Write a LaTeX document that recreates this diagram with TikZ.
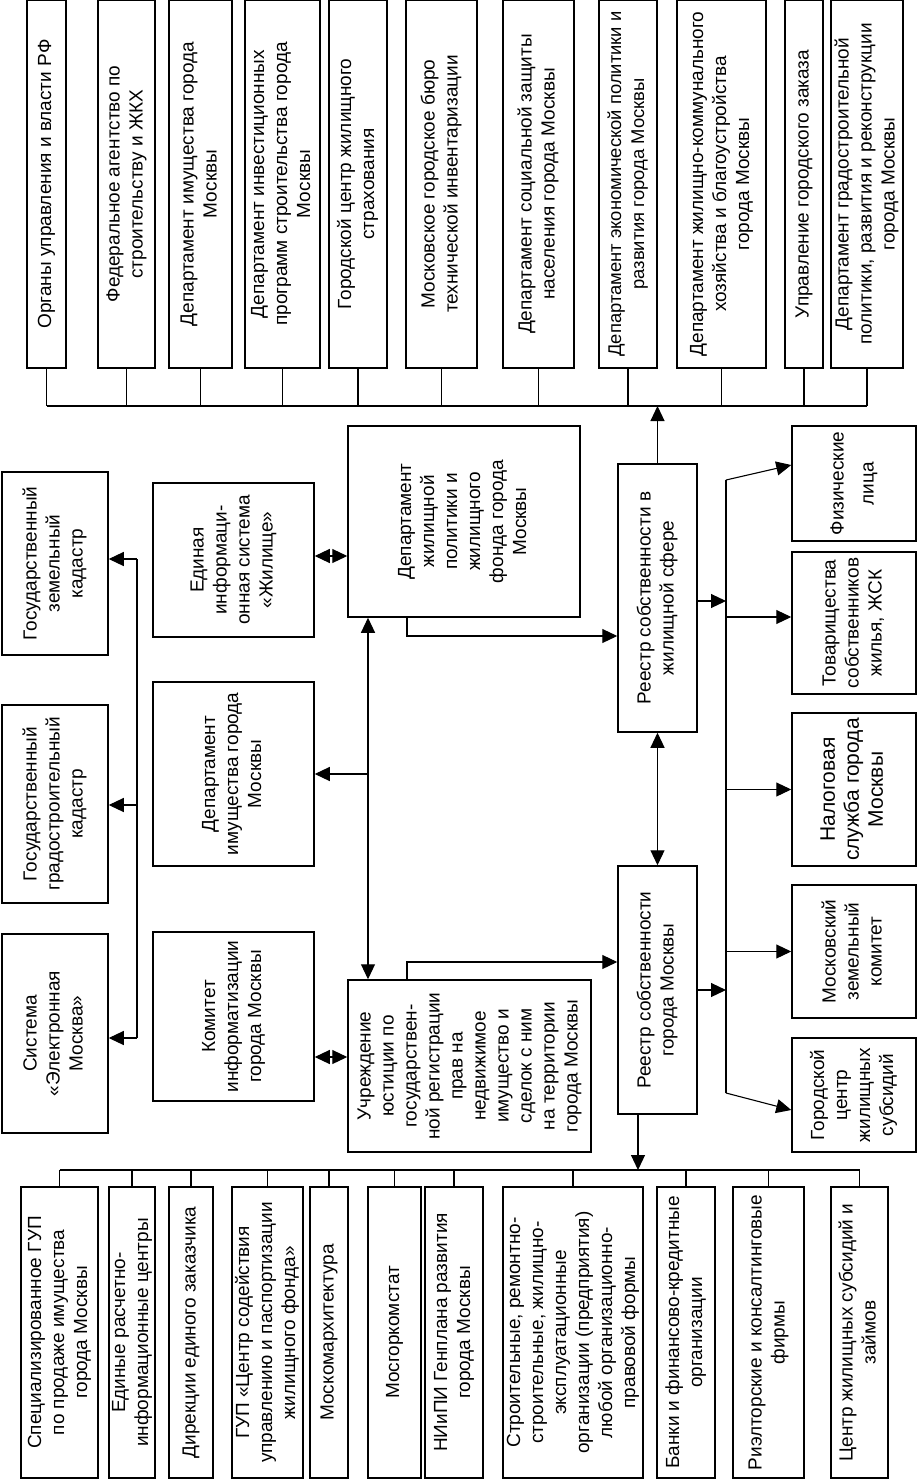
\documentclass[tikz,border=0pt]{standalone}
\usepackage{fontspec}
\usepackage{graphicx}
\setmainfont{Liberation Sans}
\usetikzlibrary{arrows.meta}
\newcommand\rt[1]{\rotatebox{90}{\begin{tabular}{@{}c@{}}#1\end{tabular}}}
\newcommand\mkbox[7][]{\node[box, #1, minimum width={(#5)-(#3)}, minimum height={(#6)-(#4)}] (#2) at ({((#3)+(#5))/2},{((#4)+(#6))/2}) {\rt{#7}};}
\tikzset{
  box/.style={draw, line width=1.5pt, inner sep=0pt, font=\fontsize{19pt}{23pt}\selectfont},
  ln/.style={line width=1.1pt},
  arr/.style={ln, -{Triangle[length=15pt,width=14pt]}},
  darr/.style={ln, {Triangle[length=15pt,width=14pt]}-{Triangle[length=15pt,width=14pt]}}
}
\begin{document}
\begin{tikzpicture}[x=1pt,y=-1pt]
\useasboundingbox (0,0) rectangle (918,1479);
% top row
\mkbox{T1}{27}{0}{66}{368}{Органы управления и власти РФ}
\mkbox{T2}{98}{0}{155}{368}{Федеральное агентство по\\строительству и ЖКХ}
\mkbox{T3}{169}{0}{232}{368}{Департамент имущества города\\Москвы}
\mkbox{T4}{245}{0}{320}{368}{Департамент инвестиционных\\программ строительства города\\Москвы}
\mkbox{T5}{329}{0}{387}{368}{Городской центр жилищного\\страхования}
\mkbox{T6}{406}{0}{477}{368}{Московское городское бюро\\технической инвентаризации}
\mkbox{T7}{503}{0}{574}{368}{Департамент социальной защиты\\населения города Москвы}
\mkbox[font=\fontsize{18.4pt}{23pt}\selectfont]{T8}{599}{0}{657}{368}{Департамент экономической политики и\\развития города Москвы}
\mkbox{T9}{677}{0}{766}{368}{Департамент жилищно-коммунального\\хозяйства и благоустройства\\города Москвы}
\mkbox{T10}{785}{0}{823}{368}{Управление городского заказа}
\mkbox{T11}{831}{0}{903}{368}{Департамент градостроительной\\политики, развития и реконструкции\\города Москвы}
\coordinate (busT) at (0,406);
\draw[ln] (T1.south |- busT) -- (T11.south |- busT);
\foreach \i in {1,...,11} \draw[ln] (T\i.south) -- (T\i.south |- busT);
% left column
\mkbox{G1}{2}{472}{108}{655}{Государственный\\земельный\\кадастр}
\mkbox{G2}{2}{705}{108}{903}{Государственный\\градостроительный\\кадастр}
\mkbox{G3}{2}{934}{108}{1133}{Система\\«Электронная\\Москва»}
% middle column
\mkbox{M1}{153}{483}{314}{637}{Единая\\информаци-\\онная система\\«Жилище»}
\mkbox{M2}{153}{682}{314}{866}{Департамент\\имущества города\\Москвы}
\mkbox{M3}{153}{932}{314}{1101}{Комитет\\информатизации\\города Москвы}
% center
\mkbox{D}{348}{426}{580}{617}{Департамент\\жилищной\\политики и\\жилищного\\фонда города\\Москвы}
\mkbox{U}{348}{980}{591}{1152}{Учреждение\\юстиции по\\государствен-\\ной регистрации\\прав на\\недвижимое\\имущество и\\сделок с ним\\на территории\\города Москвы}
\mkbox{R1}{618}{464}{697}{732}{Реестр собственности в\\жилищной сфере}
\mkbox{R2}{618}{866}{697}{1114}{Реестр собственности\\города Москвы}
% right column
\mkbox{P1}{792}{426}{916}{541}{Физические\\[7pt]лица}
\mkbox{P2}{792}{552}{916}{694}{Товарищества\\собственников\\жилья, ЖСК}
\mkbox[font=\fontsize{21pt}{24pt}\selectfont]{P3}{792}{713}{916}{866}{Налоговая\\служба города\\Москвы}
\mkbox{P4}{792}{885}{916}{1018}{Московский\\земельный\\комитет}
\mkbox{P5}{792}{1038}{916}{1152}{Городской\\центр\\жилищных\\субсидий}
% bottom row
\mkbox{B1}{21}{1187}{98}{1478}{Специализированное ГУП\\по продаже имущества\\города Москвы}
\mkbox{B2}{109}{1187}{155}{1478}{Единые расчетно-\\информационные центры}
\mkbox{B3}{169}{1187}{213}{1478}{Дирекции единого заказчика}
\mkbox{B4}{232}{1187}{303}{1478}{ГУП «Центр содействия\\управлению и паспортизации\\жилищного фонда»}
\mkbox{B5}{310}{1187}{348}{1478}{Москомархитектура}
\mkbox{B6}{368}{1187}{421}{1478}{Мосгоркомстат}
\mkbox{B7}{425}{1187}{483}{1478}{НИиПИ Генплана развития\\города Москвы}
\mkbox{B8}{503}{1187}{643}{1478}{Строительные, ремонтно-\\строительные, жилищно-\\эксплуатационные\\организации (предприятия)\\любой организационно-\\правовой формы}
\mkbox{B9}{657}{1187}{715}{1478}{Банки и финансово-кредитные\\организации}
\mkbox{B10}{733}{1187}{804}{1478}{Риэлторские и консалтинговые\\фирмы}
\mkbox{B11}{831}{1187}{888}{1478}{Центр жилищных субсидий и\\займов}
\coordinate (busB) at (0,1170);
\draw[ln] (B1.north |- busB) -- (B11.north |- busB);
\foreach \i in {1,...,11} \draw[ln] (B\i.north) -- (B\i.north |- busB);
% left vertical line
\coordinate (lv1) at (137,559);
\coordinate (lv2) at (137,805);
\coordinate (lv3) at (137,1038);
\draw[ln] (lv1) -- (lv3);
\draw[arr] (lv1) -- (lv1 -| G1.east);
\draw[arr] (lv2) -- (lv2 -| G2.east);
\draw[arr] (lv3) -- (lv3 -| G3.east);
% double arrows
\draw[darr] (M1.east |- 0,556) -- (D.west |- 0,556);
\draw[darr] (M3.east |- 0,1057) -- (U.west |- 0,1057);
% vertical D-U line
\coordinate (cv) at (368,774);
\draw[darr] (D.south -| cv) -- (U.north -| cv);
\draw[arr] (cv) -- (cv -| M2.east);
% D -> R1, U -> R2
\draw[arr] (D.south -| 407,0) |- (R1.west |- 0,636);
\draw[arr] (U.north -| 407,0) |- (R2.west |- 0,962);
% R1 <-> R2, R1 -> top bus, R2 -> bottom bus
\draw[darr] (R1.south) -- (R2.north);
\draw[arr] (R1.north) -- (R1.north |- busT);
\coordinate (r2b) at (638,1114);
\draw[arr] (r2b) -- (r2b |- busB);
% right vertical line
\coordinate (rv1) at (726,480);
\coordinate (rv2) at (726,1093);
\draw[ln] (rv1) -- (rv2);
\draw[arr] (R1.east |- 0,601) -- (rv1 |- 0,601);
\draw[arr] (R2.east |- 0,990) -- (rv1 |- 0,990);
\draw[arr] (rv1) -- (P1.west |- 0,465);
\draw[arr] (rv1 |- 0,617) -- (P2.west |- 0,617);
\draw[arr] (rv1 |- P3.west) -- (P3.west);
\draw[arr] (rv1 |- P4.west) -- (P4.west);
\draw[arr] (rv2) -- (P5.west |- 0,1110);
\end{tikzpicture}
\end{document}
